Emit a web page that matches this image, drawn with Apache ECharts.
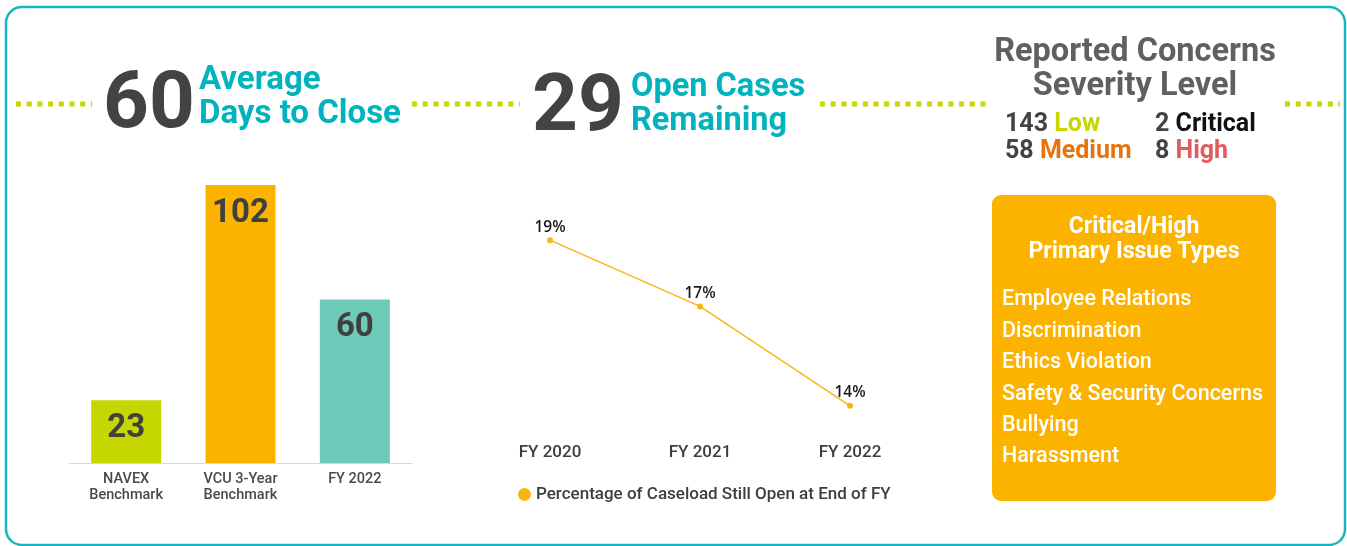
<!DOCTYPE html>
<html>
<head>
<meta charset="utf-8">
<title>Case Metrics</title>
<script src="https://cdn.jsdelivr.net/npm/echarts@6/dist/echarts.min.js"></script>
<style>
  html, body { margin: 0; padding: 0; background: #fff; }
  #main { width: 1347px; height: 546px; }
</style>
</head>
<body>
<div id="main"></div>
<script>
// data
var barCategories = ['NAVEX\nBenchmark', 'VCU 3-Year\nBenchmark', 'FY 2022'];
var barValues = [23, 102, 60];
var barColors = ['#c5d600', '#fbb300', '#6ecbba'];

var lineCategories = ['FY 2020', 'FY 2021', 'FY 2022'];
var openPct = [19, 17, 14];
var lineName = 'Percentage of Caseload Still Open at End of FY';

var avgDays = 60;
var openCases = 29;
var severityLabels = ['Low', 'Medium', 'Critical', 'High'];
var severityCounts = [143, 58, 2, 8];
var issueTypes = ['Employee Relations', 'Discrimination', 'Ethics Violation',
                  'Safety & Security Concerns', 'Bullying', 'Harassment'];

var FONT = 'Roboto, "Noto Sans", sans-serif';
var TEAL = '#00b3bf';
var DARK = '#434343';

var myChart = echarts.init(document.getElementById('main'));

// dotted separators
function dots(x1, x2) {
    return {
        type: 'line', silent: true,
        shape: { x1: x1, y1: 104, x2: x2, y2: 104 },
        style: { stroke: '#c5d600', lineWidth: 5, lineDash: [5, 5.7] }
    };
}

function txt(x, y, text, font, color, align) {
    return {
        type: 'text', silent: true, x: x, y: y,
        style: { text: text, font: font, fill: color, textAlign: align || 'left', textVerticalAlign: 'middle' }
    };
}

function sevText(x, y, idx, color) {
    return {
        type: 'text', silent: true, x: x, y: y,
        style: {
            text: '{n|' + severityCounts[idx] + ' }{l|' + severityLabels[idx] + '}',
            textVerticalAlign: 'middle',
            rich: {
                n: { fontFamily: FONT, fontSize: 25, fontWeight: 'bold', fill: DARK },
                l: { fontFamily: FONT, fontSize: 25, fontWeight: 'bold', fill: color }
            }
        }
    };
}

var graphics = [
    { type: 'rect', silent: true, shape: { x: 6, y: 7, width: 1339, height: 538, r: 16 },
      style: { fill: 'none', stroke: '#16b6c4', lineWidth: 2.5 } },
    dots(16, 92), dots(412, 520), dots(820, 990), dots(1285, 1340),
    txt(103, 107, String(avgDays), 'bold 80px ' + FONT, DARK),
    txt(199, 81, 'Average', 'bold 33px ' + FONT, TEAL),
    txt(199, 115, 'Days to Close', 'bold 33px ' + FONT, TEAL),
    txt(532, 110, String(openCases), 'bold 80px ' + FONT, DARK),
    txt(631, 88, 'Open Cases', 'bold 32.5px ' + FONT, TEAL),
    txt(631, 122, 'Remaining', 'bold 32.5px ' + FONT, TEAL),
    txt(1135, 53, 'Reported Concerns', 'bold 32.5px ' + FONT, '#5f6062', 'center'),
    txt(1135, 87, 'Severity Level', 'bold 32.5px ' + FONT, '#5f6062', 'center'),
    sevText(1005, 125, 0, '#c5d600'),
    sevText(1005, 152, 1, '#e8730c'),
    sevText(1155, 125, 2, '#111111'),
    sevText(1155, 152, 3, '#e05a5f'),
    { type: 'rect', silent: true, shape: { x: 992, y: 195, width: 284, height: 306, r: 9 },
      style: { fill: '#fbb300' } },
    txt(1134, 227, 'Critical/High', 'bold 23px ' + FONT, '#ffffff', 'center'),
    txt(1134, 252, 'Primary Issue Types', 'bold 23px ' + FONT, '#ffffff', 'center')
];
issueTypes.forEach(function (name, i) {
    graphics.push(txt(1002, 300 + i * 31.4, name, '500 21.5px ' + FONT, '#ffffff'));
});

myChart.setOption({
    animation: false,
    textStyle: { fontFamily: FONT },
    graphic: graphics,
    legend: {
        data: [lineName],
        left: 513, top: 481,
        icon: 'circle', itemWidth: 13, itemHeight: 13,
        textStyle: { fontSize: 17, fontWeight: 500, color: '#3d3d3d' }
    },
    grid: [
        { left: 69, width: 343, top: 185, height: 278 },
        { left: 475, width: 450, top: 207, height: 232 }
    ],
    xAxis: [
        {
            gridIndex: 0, type: 'category', data: barCategories,
            axisLine: { lineStyle: { color: '#d9d9d9' } },
            axisTick: { show: false },
            axisLabel: { color: '#4a4a4a', fontSize: 14.5, fontWeight: 500, lineHeight: 16, margin: 8 }
        },
        {
            gridIndex: 1, type: 'category', data: lineCategories,
            axisLine: { show: false }, axisTick: { show: false },
            axisLabel: { color: '#3d3d3d', fontSize: 17, fontWeight: 500, margin: 5 }
        }
    ],
    yAxis: [
        { gridIndex: 0, type: 'value', min: 0, max: 102, show: false },
        { gridIndex: 1, type: 'value', min: 13, max: 20, show: false }
    ],
    series: [
        {
            type: 'bar', xAxisIndex: 0, yAxisIndex: 0, barWidth: 70,
            data: barValues.map(function (v, i) {
                return { value: v, itemStyle: { color: barColors[i] } };
            }),
            label: {
                show: true, position: 'insideTop', distance: 12,
                fontSize: 33, fontWeight: 'bold', color: '#404040'
            }
        },
        {
            name: lineName, type: 'line', xAxisIndex: 1, yAxisIndex: 1,
            data: openPct,
            color: '#f9b516',
            symbol: 'circle', symbolSize: 6,
            lineStyle: { width: 1.5, color: '#f9b516' },
            label: {
                show: true, position: 'top', distance: 2, formatter: '{c}%',
                fontFamily: '"Open Sans", sans-serif', fontSize: 15.5, fontWeight: 600, color: '#1a1a1a'
            }
        }
    ]
});
</script>
</body>
</html>
